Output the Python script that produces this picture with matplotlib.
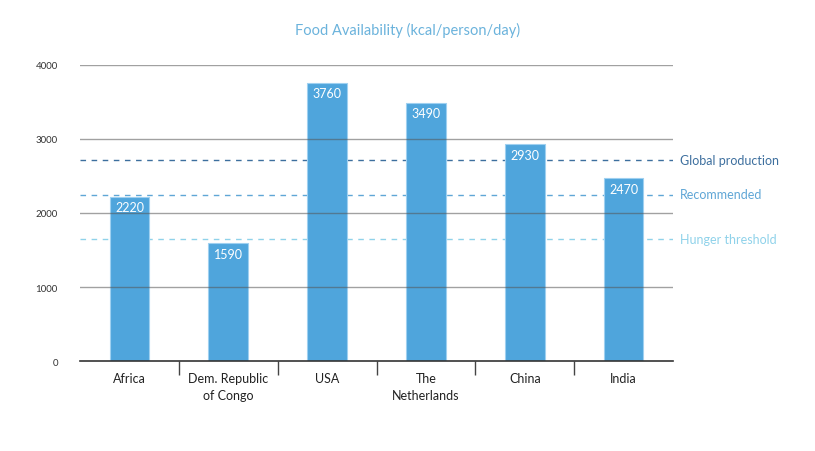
import matplotlib
matplotlib.use("Agg")
import matplotlib.pyplot as plt

categories = ["Africa", "Dem. Republic\nof Congo", "USA", "The\nNetherlands", "China", "India"]
values = [2220, 1590, 3760, 3490, 2930, 2470]
ref_names = ["Global production", "Recommended", "Hunger threshold"]
ref_values = [2720, 2250, 1650]
ref_colors = ["#3d6f9e", "#5fa6d6", "#8fd2ea"]
yticks = [0, 1000, 2000, 3000, 4000]

plt.rcParams['font.family'] = ['Lato', 'DejaVu Sans']

fig = plt.figure(figsize=(8.15, 4.52), dpi=100)
ax = fig.add_axes([80/815, 1-362/452, (673-80)/815, (362-66)/452])

x = list(range(len(categories)))
ax.bar(x, values, width=0.40, color="#4fa5dc", edgecolor="#9fd0f0", linewidth=0.8, zorder=2)
for xi, v in zip(x, values):
    ax.text(xi, v - 60, str(v), ha="center", va="top", color="white", fontsize=9, zorder=4)

for name, v, c in zip(ref_names, ref_values, ref_colors):
    ax.axhline(v, color=c, linestyle=(0, (4, 4)), linewidth=1.0, zorder=1)
    ax.text(1.011, v, name, transform=ax.get_yaxis_transform(), ha="left", va="center",
            color=c, fontsize=9)

for t in yticks[1:]:
    ax.axhline(t, color="#555555", alpha=0.55, linewidth=1.0, zorder=3)
ax.axhline(0, color="#333333", linewidth=1.2, zorder=3, clip_on=False)

ax.set_xlim(-0.5, len(categories) - 0.5)
ax.set_ylim(0, 4000)
for s in ax.spines.values():
    s.set_visible(False)

ax.set_yticks(yticks)
ax.set_yticklabels([str(t) for t in yticks], fontsize=7, color="#333333")
ax.tick_params(axis="y", length=0, pad=16)

ax.set_xticks(x)
ax.set_xticklabels(categories, fontsize=9, color="#222222", linespacing=1.45)
ax.tick_params(axis="x", which="major", length=0, pad=8)
ax.set_xticks([i + 0.5 for i in x[:-1]], minor=True)
ax.tick_params(axis="x", which="minor", length=10, width=1.0, color="#444444", direction="out")

fig.text(408/815, 1-30/452, "Food Availability (kcal/person/day)", ha="center", va="center",
         color="#6bb3dc", fontsize=10.5)

fig.savefig("out.png", dpi=100, facecolor="white")
